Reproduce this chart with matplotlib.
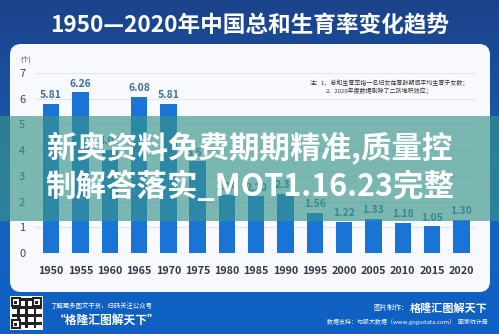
import numpy as np
import matplotlib.pyplot as plt
from matplotlib.patches import FancyBboxPatch, Rectangle
from matplotlib.colors import LinearSegmentedColormap

plt.rcParams['font.family'] = ['Noto Sans CJK SC', 'DejaVu Sans']

# data
years = ['1950', '1955', '1960', '1965', '1970', '1975', '1980', '1985',
         '1990', '1995', '2000', '2005', '2010', '2015', '2020']
tfr = [5.81, 6.26, 4.02, 6.08, 5.81, 3.57, 2.24, 2.20,
       2.31, 1.56, 1.22, 1.33, 1.18, 1.05, 1.30]
yticks = [0, 1, 2, 3, 4, 5, 6, 7]

title = '1950—2020年中国总和生育率变化趋势'
note1 = '注：1、总和生育率指一名妇女在育龄期间平均生育子女数；'
note2 = '2、2020年度数据剔除了二孩堆积效应；'
wm1 = '新奥资料免费期期精准,质量控'
wm2 = '制解答落实_MOT1.16.23完整'

W, H = 499, 334
fig = plt.figure(figsize=(W / 100, H / 100), dpi=100)

# background layer (pixel coords)
bg = fig.add_axes([0, 0, 1, 1], zorder=0)
bg.set_xlim(0, W)
bg.set_ylim(H, 0)
bg.axis('off')
cmap = LinearSegmentedColormap.from_list('bgblue', ['#1a438a', '#1c54a6', '#1763c0', '#0e60c4'])
grad = np.linspace(0, 1, 200).reshape(-1, 1)
bg.imshow(grad, cmap=cmap, extent=[0, W, H, 0], aspect='auto')
bg.add_patch(FancyBboxPatch((10, 44), 480, 248, boxstyle='round,pad=0,rounding_size=11',
                            fc='#f7f9fc', ec='none'))
bg.text(W / 2, 25, title, color='white', fontsize=16.3, fontweight='bold',
        ha='center', va='center')
bg.text(26, 61, '(个)', color='#333333', fontsize=4.5, ha='center', va='center')
bg.text(310, 83, note1, color='#333333', fontsize=4.3, ha='left', va='center')
bg.text(326, 90.5, note2, color='#333333', fontsize=4.3, ha='left', va='center')

# bar chart
ax = fig.add_axes([35 / W, (H - 253) / H, 441 / W, 180 / H], zorder=1)
ax.patch.set_alpha(0)
x = np.arange(len(years))
bars = ax.bar(x, tfr, width=0.56, color='#1a74d6', zorder=2)
for xi, v in zip(x, tfr):
    ax.annotate(f'{v:.2f}', (xi, v), xytext=(0, 2.5), textcoords='offset points',
                ha='center', va='bottom', fontsize=7.5, fontweight='bold', color='#3b6f9f')
ax.set_xlim(-0.55, 14.5)
ax.set_ylim(0, 7)
ax.set_yticks(yticks)
ax.set_xticks(x)
ax.set_xticklabels(years)
ax.tick_params(axis='x', length=0, pad=9, labelsize=7.8, labelcolor='#34374a')
ax.tick_params(axis='y', length=0, pad=7, labelsize=8, labelcolor='#444444')
for lab in ax.get_xticklabels():
    lab.set_fontweight('bold')
ax.grid(axis='y', color='#e2e5ea', lw=0.8, zorder=0)
for s in ax.spines.values():
    s.set_visible(False)

# overlay layer: watermark band and footer
ov = fig.add_axes([0, 0, 1, 1], zorder=5)
ov.set_xlim(0, W)
ov.set_ylim(H, 0)
ov.axis('off')
ov.patch.set_alpha(0)
ov.add_patch(Rectangle((0, 116), W, 105, fc='#37948a', alpha=0.65, ec='none'))
ov.text(W / 2, 149, wm1, color='white', fontsize=22, fontweight='bold', ha='center', va='center')
ov.text(W / 2, 187, wm2, color='white', fontsize=22, fontweight='bold', ha='center', va='center')

# QR code block
ov.add_patch(Rectangle((10, 296), 33, 34, fc='white', ec='none'))
cells = 11
for i in range(cells):
    for j in range(cells):
        if (i * 7 + j * 3 + i * j) % 3 == 0:
            ov.add_patch(Rectangle((12 + j * 2.7, 298 + i * 2.7), 2.7, 2.7, fc='#222222', ec='none'))
for cx, cy in [(12, 298), (33, 298), (12, 320)]:
    ov.add_patch(Rectangle((cx, cy), 8, 8, fc='white', ec='#222222', lw=1.5))
    ov.add_patch(Rectangle((cx + 2.5, cy + 2.5), 3, 3, fc='#222222', ec='none'))

ov.text(50, 306, '了解更多图文干货，扫码关注公众号', color='white', fontsize=4.6,
        style='italic', ha='left', va='center')
ov.text(54, 320, '“格隆汇图解天下”', color='white', fontsize=8.5, fontweight='bold',
        ha='left', va='center')
ov.text(408, 308, '图片制作：', color='white', fontsize=5, ha='right', va='center')
ov.text(488, 308, '格隆汇图解天下', color='white', fontsize=8, fontweight='bold',
        ha='right', va='center')
ov.text(488, 322, '数据支持：勾股大数据（www.gogudata.com）  国家统计局', color='white',
        fontsize=4.3, ha='right', va='center')

fig.savefig('out.png', dpi=100)
